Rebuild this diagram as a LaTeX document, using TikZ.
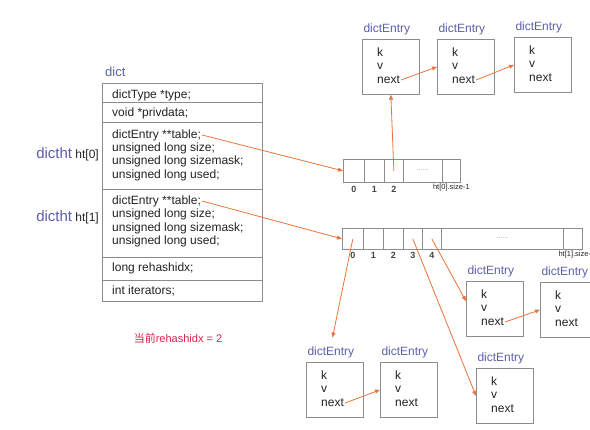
\documentclass[tikz,border=0pt]{standalone}
\usepackage{fontspec}
\setmainfont{Liberation Sans}
\newfontfamily\cjkfont{Noto Sans CJK SC}
\usepackage{tikz}
\usetikzlibrary{arrows.meta,positioning}

\definecolor{linkorange}{HTML}{E8743B}
\definecolor{labelblue}{HTML}{5B5FA6}
\definecolor{boxgray}{HTML}{8C8C8C}
\definecolor{notered}{HTML}{D9214E}
\definecolor{textdark}{HTML}{222222}

\tikzset{
 row/.style={draw=boxgray, line width=0.7pt, anchor=north west, minimum width=160pt, inner sep=0pt},
 code/.style={anchor=west, inner sep=1pt, text=textdark, font=\fontsize{12}{14}\selectfont},
 cell/.style={draw=boxgray, line width=0.7pt, inner sep=0pt, anchor=north west},
 idx/.style={inner sep=1pt, text=textdark!85, font=\fontsize{9}{9}\selectfont\bfseries},
 sizelab/.style={inner sep=0pt, text=textdark, font=\fontsize{7.5}{8}\selectfont},
 dots/.style={inner sep=0pt, text=boxgray, font=\fontsize{7}{7}\selectfont, anchor=base},
 entrybox/.style={draw=boxgray, line width=0.7pt, minimum width=57pt, minimum height=55pt, anchor=north west, inner sep=0pt},
 entrylabel/.style={inner sep=1pt, text=labelblue, font=\fontsize{12}{12}\selectfont},
 link/.style={draw=linkorange, line width=0.8pt, -{Triangle[length=5pt,width=4pt]}},
}

% one dictEntry box: name, x, y of its top left corner
\newcommand{\dictentry}[3]{%
 \node[entrybox] (#1) at (#2,#3) {};
 \node[entrylabel, above=3pt of #1.north, xshift=-4pt] (#1t) {dictEntry};
 \node[code] (#1k) at (#2+14,#3+13) {k};
 \node[code] (#1v) at (#2+14,#3+27) {v};
 \node[code] (#1n) at (#2+14,#3+41) {next};
}

\begin{document}
\begin{tikzpicture}[x=1pt,y=-1pt]
 \useasboundingbox (0,0) rectangle (590,430);
 \clip (0,0) rectangle (590,430);

 % dict
 \node[anchor=west, inner sep=0pt, text=labelblue, font=\fontsize{13}{13}\selectfont] (dictlab) at (105,72) {dict};
 \node[row, minimum height=19pt] (r1) at (102,83) {};
 \node[row, minimum height=20pt] (r2) at (102,102) {};
 \node[row, minimum height=67pt] (r3) at (102,122) {};
 \node[row, minimum height=68pt] (r4) at (102,189) {};
 \node[row, minimum height=23pt] (r5) at (102,257) {};
 \node[row, minimum height=21pt] (r6) at (102,280) {};

 \node[code] (type) at (111,95) {dictType *type;};
 \node[code] (priv) at (111,113) {void *privdata;};
 \node[code] (tab0) at (111,135) {dictEntry **table;};
 \node[code] (size0) at (111,148) {unsigned long size;};
 \node[code] (mask0) at (111,161) {unsigned long sizemask;};
 \node[code] (used0) at (111,175) {unsigned long used;};
 \node[code] (tab1) at (111,201) {dictEntry **table;};
 \node[code] (size1) at (111,214) {unsigned long size;};
 \node[code] (mask1) at (111,228) {unsigned long sizemask;};
 \node[code] (used1) at (111,241) {unsigned long used;};
 \node[code] (rehash) at (111,268) {long rehashidx;};
 \node[code] (iter) at (111,291) {int iterators;};

 \node[code, anchor=east] (ht0lab) at (100,154) {\textcolor{labelblue}{\fontsize{15}{15}\selectfont dictht} ht[0]};
 \node[code, anchor=east] (ht1lab) at (100,217) {\textcolor{labelblue}{\fontsize{15}{15}\selectfont dictht} ht[1]};

 % ht[0] table
 \foreach \n/\x/\w in {0/343/21pt,1/364/20pt,2/384/19pt,d/403/39pt,n/442/18pt}
  \node[cell, minimum width=\w, minimum height=23pt] (a0\n) at (\x,159) {};
 \foreach \n in {0,1,2}
  \node[idx, below=2pt of a0\n] {\n};
 \node[dots] at (a0d.center) {......};
 \node[sizelab, below=1pt of a0n] (sz0) {ht[0].size-1};

 % ht[1] table
 \foreach \n/\x/\w in {0/342/21pt,1/363/20pt,2/383/20pt,3/403/19pt,4/422/19pt,d/441/122pt,n/563/19pt}
  \node[cell, minimum width=\w, minimum height=21pt] (a1\n) at (\x,228) {};
 \foreach \n in {0,1,2,3,4}
  \node[idx, below=1pt of a1\n] {\n};
 \node[dots] at (a1d.center) {......};
 \node[sizelab, below=1pt of a1n, xshift=4pt] (sz1) {ht[1].size-1};

 % entries
 \dictentry{e1}{362}{39}
 \dictentry{e2}{437}{39}
 \dictentry{e3}{514}{37}
 \dictentry{e4}{466}{281}
 \dictentry{e5}{540}{282}
 \dictentry{e6}{306}{362}
 \dictentry{e7}{380}{362}
 \dictentry{e8}{476}{368}

 \node[inner sep=0pt, text=notered, font=\fontsize{11}{11}\selectfont] (note) at (178,338) {{\cjkfont 当前}rehashidx = 2};

 % links
 \draw[link] (tab0.east) -- (a00.west);
 \draw[link] (tab1.east) -- (a10.west);
 \draw[link] (a02.center) -- (e1.south);
 \draw[link] (e1n.east) -- (e2.west);
 \draw[link] (e2n.east) -- (e3.west);
 \draw[link, shorten >=8pt] (a10.center) -- (e6t.north);
 \draw[link] (a13.center) -- (e8.west);
 \draw[link] (a14.center) -- (e4.165);
 \draw[link] (e4n.east) -- (e5.west);
 \draw[link] (e6n.east) -- (e7.west);
\end{tikzpicture}
\end{document}
